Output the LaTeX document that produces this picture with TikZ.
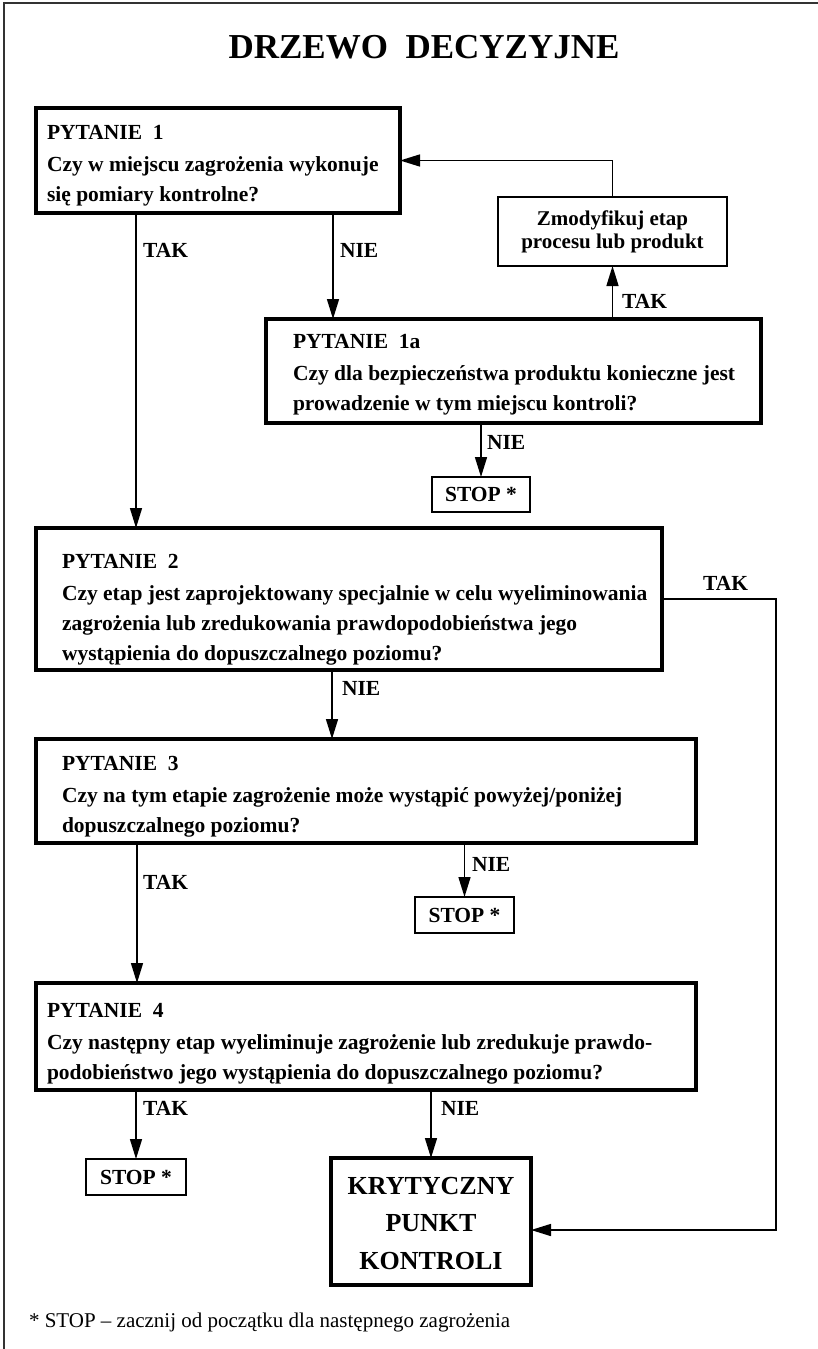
\documentclass[tikz,border=0pt]{standalone}
\usepackage{fontspec}
\setmainfont{Liberation Serif}
\usetikzlibrary{arrows.meta}

% left-aligned block of lines whose baseline is the first line
\newcommand\qlines[1]{\begin{tabular}[t]{@{}l@{}}#1\end{tabular}}
\newcommand\clines[1]{\begin{tabular}[t]{@{}c@{}}#1\end{tabular}}

\begin{document}
\begin{tikzpicture}[x=1pt, y=-1pt,
  every node/.style={inner sep=0pt, outer sep=0pt},
  txt/.style={font=\fontsize{21.5}{30}\selectfont\bfseries},
  qbox/.style={draw, line width=3.2pt, anchor=north west},
  thinbox/.style={draw, line width=1.8pt, anchor=north west, txt},
  qtext/.style={txt, anchor=base west},
  lbl/.style={txt, anchor=west},
  arr/.style={line width=1.5pt, -{Triangle[length=20pt,width=12pt]}},
  conn/.style={line width=1.5pt}
]
\useasboundingbox (0,0) rectangle (818,1349);

% page frame (top and left edges)
\draw[line width=2pt, black!80] (3.5,1349) -- (3.5,3) -- (818,3);

% title
\node[font=\fontsize{35}{40}\selectfont\bfseries, anchor=base] (title) at (424,58.5) {DRZEWO\ \ DECYZYJNE};

% question 1
\node[qbox, minimum width=364pt, minimum height=105pt] (p1) at (36,108) {};
\node[qtext] (p1t) at (47,139) {\qlines{PYTANIE\ \ 1\\[2pt]
  Czy w miejscu zagrożenia wykonuje\\
  się pomiary kontrolne?}};

% modify step
\node[thinbox, minimum width=229pt, minimum height=69pt, align=center,
      font=\fontsize{21}{23}\selectfont\bfseries] (mod) at (498,197)
  {Zmodyfikuj etap\\procesu lub produkt};

% question 1a
\node[qbox, minimum width=495pt, minimum height=104pt] (p1a) at (266,319) {};
\node[qtext] (p1at) at (293,348) {\qlines{PYTANIE\ \ 1a\\[2pt]
  Czy dla bezpieczeństwa produktu konieczne jest\\
  prowadzenie w tym miejscu kontroli?}};

\node[thinbox, minimum width=98pt, minimum height=35pt] (stop1) at (432,477) {STOP *};

% question 2
\node[qbox, minimum width=626pt, minimum height=142pt] (p2) at (36,528) {};
\node[qtext] (p2t) at (62,568) {\qlines{PYTANIE\ \ 2\\[2pt]
  Czy etap jest zaprojektowany specjalnie w celu wyeliminowania\\
  zagrożenia lub zredukowania prawdopodobieństwa jego\\
  wystąpienia do dopuszczalnego poziomu?}};

% question 3
\node[qbox, minimum width=660pt, minimum height=104pt] (p3) at (36,739) {};
\node[qtext] (p3t) at (62,770) {\qlines{PYTANIE\ \ 3\\[2pt]
  Czy na tym etapie zagrożenie może wystąpić powyżej/poniżej\\
  dopuszczalnego poziomu?}};

\node[thinbox, minimum width=99pt, minimum height=36pt] (stop2) at (415,897) {STOP *};

% question 4
\node[qbox, minimum width=660pt, minimum height=107pt] (p4) at (36,983) {};
\node[qtext] (p4t) at (47,1017) {\qlines{PYTANIE\ \ 4\\[2pt]
  Czy następny etap wyeliminuje zagrożenie lub zredukuje prawdo-\\
  podobieństwo jego wystąpienia do dopuszczalnego poziomu?}};

\node[thinbox, minimum width=100pt, minimum height=36pt] (stop3) at (86,1159) {STOP *};

% critical control point
\node[draw, line width=4.5pt, anchor=north west, minimum width=200pt, minimum height=127pt] (kpk) at (331,1158) {};
\node[font=\fontsize{26}{37.5}\selectfont\bfseries, anchor=base] (kpkt) at (431,1194)
  {\clines{KRYTYCZNY\\PUNKT\\KONTROLI}};

% footnote
\node[font=\fontsize{21}{25}\selectfont, anchor=base west] (note) at (29,1327)
  {* STOP – zacznij od początku dla następnego zagrożenia};

% connectors
\coordinate (bend) at (776,599);
\draw[arr] ([xshift=100pt]p1.south west) -- ([xshift=100pt]p2.north west);
\draw[arr] ([xshift=297pt]p1.south west) -- ([xshift=67pt]p1a.north west);
\draw[arr] (p1a.north -| mod.south) -- (mod.south);
\draw[arr] (mod.north) |- (p1.east);
\draw[arr] (p1a.south -| stop1.north) -- (stop1.north);
\draw[arr] (p2.east) -- (bend) |- ([yshift=-8.5pt]kpk.east);
\draw[arr] ([xshift=296pt]p2.south west) -- ([xshift=296pt]p3.north west);
\draw[arr] ([xshift=101pt]p3.south west) -- ([xshift=101pt]p4.north west);
\draw[arr] (p3.south -| stop2.north) -- (stop2.north);
\draw[arr] (p4.south -| stop3.north) -- (stop3.north);
\draw[arr] (p4.south -| kpk.north) -- (kpk.north);

% branch labels
\node[lbl] (l1t) at (143,250) {TAK};
\node[lbl] (l1n) at (340,250) {NIE};
\node[lbl] (l1at) at (622,301) {TAK};
\node[lbl] (l1an) at (487,442) {NIE};
\node[lbl] (l2t) at (703,583) {TAK};
\node[lbl] (l2n) at (342,688) {NIE};
\node[lbl] (l3t) at (143,882) {TAK};
\node[lbl] (l3n) at (472,864) {NIE};
\node[lbl] (l4t) at (143,1108) {TAK};
\node[lbl] (l4n) at (441,1108) {NIE};
\end{tikzpicture}
\end{document}
